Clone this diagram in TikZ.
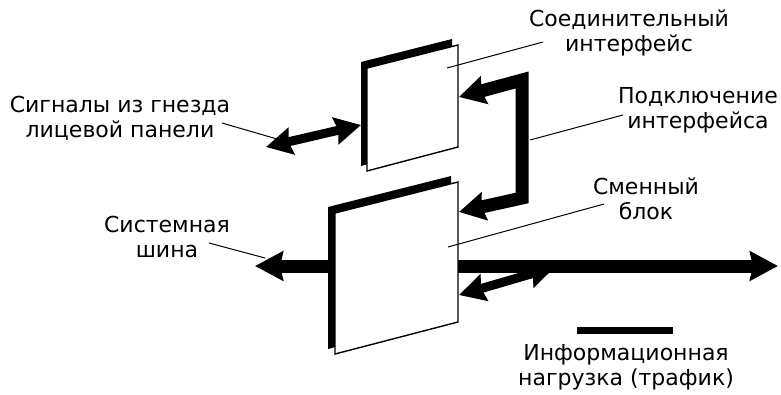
\documentclass[tikz,border=0pt]{standalone}
\usepackage{fontspec}
\setmainfont{DejaVu Sans}
\usetikzlibrary{arrows.meta}
\begin{document}
\begin{tikzpicture}[x=1pt,y=-1pt,
  lbl/.style={align=center,font=\fontsize{22}{25}\selectfont,inner sep=0pt},
  leader/.style={draw,line width=1pt},
  backplate/.style={fill=black},
  frontplate/.style={fill=white,draw=black,line width=1.4pt,line join=miter},
  bigarrow/.style={line width=13pt,line join=miter,-{Stealth[length=28pt,width=29pt,inset=3pt]}},
  dblarrow/.style={line width=9pt,{Stealth[length=26pt,width=27pt,inset=3pt]}-{Stealth[length=26pt,width=27pt,inset=3pt]}},
  loop/.style={line width=13pt,line join=miter,{Stealth[length=26pt,width=28pt,inset=3pt]}-{Stealth[length=26pt,width=28pt,inset=3pt]}}
]
\useasboundingbox (0,0) rectangle (781,394);

% coordinates
\coordinate (busL) at (255,266);
\coordinate (busM) at (330,266);
\coordinate (busR) at (778,266);
\coordinate (busS) at (450,266);

% system bus (behind panels)
\draw[bigarrow] (busM) -- (busL);
\draw[bigarrow] (busS) -- (busR);

% upper panel (connecting interface)
\coordinate (ub1) at (361,62); \coordinate (ub2) at (452,39);
\coordinate (ub3) at (452,141); \coordinate (ub4) at (361,166);
\coordinate (uf1) at (367,68); \coordinate (uf2) at (458,45);
\coordinate (uf3) at (458,147); \coordinate (uf4) at (367,171);
\fill[backplate] (ub1) -- (ub2) -- (ub3) -- (ub4) -- cycle;
\draw[frontplate] (uf1) -- (uf2) -- (uf3) -- (uf4) -- cycle;

% lower panel (plug-in unit)
\coordinate (lb1) at (328,207); \coordinate (lb2) at (451,176);
\coordinate (lb3) at (451,316); \coordinate (lb4) at (328,349);
\coordinate (lf1) at (335,213); \coordinate (lf2) at (458,182);
\coordinate (lf3) at (458,322); \coordinate (lf4) at (335,354);
\fill[backplate] (lb1) -- (lb2) -- (lb3) -- (lb4) -- cycle;
\draw[frontplate] (lf1) -- (lf2) -- (lf3) -- (lf4) -- cycle;

% connection loop
\coordinate (lpA) at (459,97);
\coordinate (lpB) at (522,80);
\coordinate (lpC) at (522,198);
\coordinate (lpD) at (459,212);
\draw[loop] (lpA) -- (lpB) -- (lpC) -- (lpD);

% front-panel signals double arrow
\coordinate (fpL) at (266,147);
\coordinate (fpR) at (361,125);
\draw[dblarrow] (fpL) -- (fpR);

% payload double arrow
\coordinate (plL) at (459,295);
\coordinate (plR) at (555,267);
\draw[dblarrow] (plL) -- (plR);

% legend bar
\coordinate (lgA) at (577,330.5);
\coordinate (lgB) at (673,330.5);
\draw[line width=7pt] (lgA) -- (lgB);

% labels
\node[lbl] (tConn) at (629,33) {Соединительный\\интерфейс};
\node[lbl] (tLink) at (698,110) {Подключение\\интерфейса};
\node[lbl] (tSig) at (120,118) {Сигналы из гнезда\\лицевой панели};
\node[lbl] (tBus) at (167,237) {Системная\\шина};
\node[lbl] (tUnit) at (646,199) {Сменный\\блок};
\node[lbl] (tLoad) at (626,367) {Информационная\\нагрузка (трафик)};

% leaders
\coordinate (ldConnA) at (447,68); \coordinate (ldConnB) at (543,42);
\draw[leader] (ldConnA) -- (ldConnB);
\coordinate (ldLinkA) at (530,140); \coordinate (ldLinkB) at (623,115);
\draw[leader] (ldLinkA) -- (ldLinkB);
\coordinate (ldSigA) at (222,123); \coordinate (ldSigB) at (277,139);
\draw[leader] (ldSigA) -- (ldSigB);
\coordinate (ldBusA) at (209,243); \coordinate (ldBusB) at (265,258);
\draw[leader] (ldBusA) -- (ldBusB);
\coordinate (ldUnitA) at (448,247); \coordinate (ldUnitB) at (604,204);
\draw[leader] (ldUnitA) -- (ldUnitB);
\end{tikzpicture}
\end{document}
